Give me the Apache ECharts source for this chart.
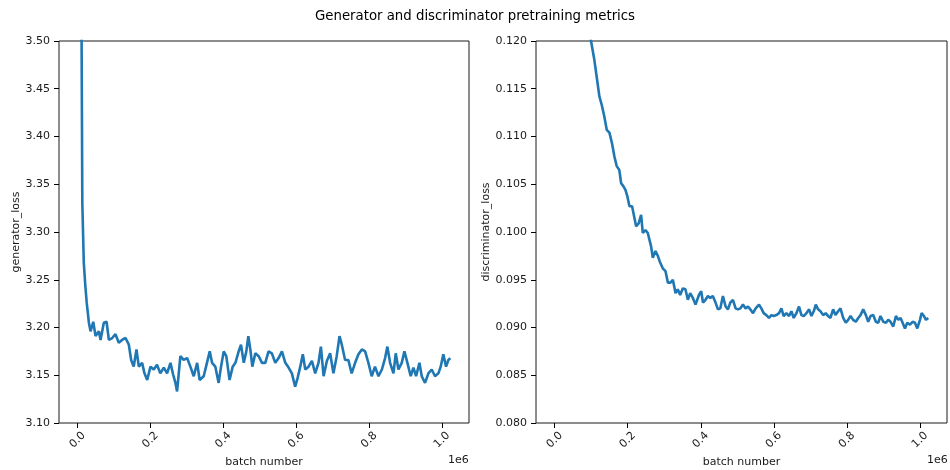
<!DOCTYPE html>
<html>
<head>
<meta charset="utf-8">
<script src="https://cdn.jsdelivr.net/npm/echarts@6/dist/echarts.min.js"></script>
<style>html,body{margin:0;padding:0;background:#fff}#c{width:950px;height:470px}</style>
</head>
<body>
<div id="c"></div>
<script>
// ---- data ----
const genBatch = [0,5000,9000,11000,13000,17000,21000,25000,31000,35600,43000,49300,58400,63000,72000,79500,85800,95000,104000,113000,122000,131500,140600,147000,154000,161600,168000,177000,183600,191000,200000,209000,218000,227000,236500,245600,254800,262000,268500,273000,282000,291000,300500,309500,318700,328000,335000,346000,355000,362600,369000,378000,387000,393600,401000,408000,417000,425600,433000,442000,448400,456000,463000,468500,474000,479500,487700,496800,506000,515000,524000,533000,542500,551600,560700,570000,579000,588000,597000,603600,611000,618000,624700,633800,643000,652000,661000,667600,675000,684000,693000,702000,711000,718700,725000,734000,743000,752000,761500,770700,780000,789000,798000,807000,816000,825600,835000,843800,850000,857500,866700,873000,880400,889500,896800,905000,914000,921500,928800,938000,944300,953400,962600,971700,980800,990000,996300,1003600,1011000,1017400,1022800];
const genLoss  = [5.8,4.4,3.70,3.50,3.33,3.268,3.245,3.226,3.205,3.196,3.206,3.191,3.196,3.187,3.205,3.206,3.187,3.189,3.193,3.184,3.187,3.189,3.182,3.166,3.159,3.177,3.159,3.163,3.152,3.145,3.159,3.156,3.161,3.152,3.158,3.152,3.163,3.151,3.142,3.133,3.170,3.166,3.168,3.159,3.149,3.163,3.145,3.149,3.163,3.175,3.163,3.159,3.142,3.159,3.175,3.170,3.145,3.159,3.163,3.175,3.182,3.163,3.175,3.191,3.177,3.159,3.173,3.170,3.163,3.163,3.175,3.173,3.163,3.168,3.175,3.163,3.158,3.152,3.138,3.147,3.159,3.172,3.156,3.159,3.165,3.152,3.163,3.180,3.149,3.165,3.173,3.152,3.170,3.191,3.182,3.166,3.166,3.152,3.163,3.172,3.177,3.175,3.163,3.149,3.159,3.149,3.156,3.168,3.180,3.163,3.152,3.173,3.156,3.163,3.175,3.163,3.149,3.158,3.149,3.163,3.149,3.142,3.152,3.156,3.149,3.152,3.159,3.172,3.159,3.166,3.168];

const discBatch = [0,20000,40000,60000,80000,99600,108800,116000,122500,129000,136000,142600,150000,157000,163600,170000,177000,182000,188000,193800,199300,204800,212000,215700,223000,230000,236700,241300,248600,255000,264000,268700,276000,282500,288800,296000,303500,310000,317000,323600,331000,337000,343700,351000,358000,364700,371000,378400,385700,395000,401300,406000,413000,419600,426000,433000,440600,447000,453400,460700,468000,474400,480800,488000,495400,501800,508200,515500,522800,529300,535600,543000,550300,559400,565800,572200,579500,586800,593200,599600,607000,614300,620700,627000,634400,641700,648000,654500,661800,669000,675500,682000,689200,696500,703000,709300,714800,721200,727600,735000,742000,748600,755000,762300,768700,776000,782400,789800,797000,803500,810000,817000,824500,831000,837300,844600,852000,858300,864700,872000,879300,885700,892000,899500,906800,913100,919600,926900,934200,940600,947000,952500,958900,965300,972600,979900,986300,992700,1000000,1004600,1011000,1016400,1022800];
const discLoss  = [0.172,0.156,0.145,0.136,0.128,0.1200,0.1180,0.1160,0.1142,0.1133,0.1121,0.1107,0.1104,0.1093,0.1079,0.1069,0.1065,0.1051,0.1048,0.1044,0.1037,0.1027,0.1027,0.1020,0.1006,0.1009,0.1018,0.0999,0.1002,0.0999,0.0985,0.0973,0.0980,0.0975,0.0968,0.0962,0.0959,0.0947,0.0947,0.0950,0.0936,0.0940,0.0934,0.0941,0.0940,0.0929,0.0936,0.0931,0.0924,0.0934,0.0938,0.0926,0.0929,0.0933,0.0931,0.0933,0.0926,0.0919,0.0920,0.0933,0.0922,0.0919,0.0926,0.0929,0.0920,0.0919,0.0920,0.0924,0.0920,0.0922,0.0919,0.0915,0.0920,0.0924,0.0920,0.0915,0.0913,0.0910,0.0913,0.0912,0.0913,0.0915,0.0920,0.0912,0.0915,0.0912,0.0917,0.0910,0.0915,0.0922,0.0913,0.0912,0.0915,0.0919,0.0912,0.0917,0.0924,0.0919,0.0917,0.0913,0.0915,0.0912,0.0910,0.0919,0.0913,0.0917,0.0920,0.0910,0.0905,0.0908,0.0912,0.0908,0.0906,0.0910,0.0913,0.0919,0.0913,0.0906,0.0912,0.0913,0.0906,0.0905,0.0912,0.0906,0.0905,0.0908,0.0906,0.0901,0.0912,0.0908,0.0910,0.0905,0.0899,0.0905,0.0903,0.0906,0.0905,0.0899,0.0908,0.0915,0.0912,0.0908,0.0910];

const xTicks = [0, 200000, 400000, 600000, 800000, 1000000];
const genYRange = [3.10, 3.50];
const discYRange = [0.080, 0.120];
const titleText = 'Generator and discriminator pretraining metrics';
const xLabel = 'batch number';
const genYLabel = 'generator_loss';
const discYLabel = 'discriminator_loss';
const offsetText = '1e6';

// ---- chart ----
const FONT = 'DejaVu Sans';
const LINE = '#1f77b4';
const TXT = '#1a1a1a';
const chart = echarts.init(document.getElementById('c'), null, {renderer: 'canvas'});

function xAxisCfg(gi) {
  return {
    type: 'value', gridIndex: gi, min: -51000, max: 1074000,
    name: xLabel, nameLocation: 'middle', nameGap: 34,
    nameTextStyle: {fontFamily: FONT, fontSize: 11, color: TXT},
    axisLine: {show: false, onZero: false},
    axisTick: {show: true, length: 5, customValues: xTicks, lineStyle: {color: '#000', width: 1}},
    axisLabel: {
      customValues: xTicks, rotate: 45, align: 'center', verticalAlign: 'middle', margin: 17,
      fontFamily: FONT, fontSize: 11, color: TXT,
      formatter: v => (v / 1e6).toFixed(1)
    },
    splitLine: {show: false}
  };
}
function yAxisCfg(gi, range, step, dec, name, gap) {
  return {
    type: 'value', gridIndex: gi, min: range[0], max: range[1], interval: step,
    name: name, nameLocation: 'middle', nameGap: gap,
    nameTextStyle: {fontFamily: FONT, fontSize: 11, color: TXT},
    axisLine: {show: false, onZero: false},
    axisTick: {show: true, length: 5, lineStyle: {color: '#000', width: 1}},
    axisLabel: {margin: 9, fontFamily: FONT, fontSize: 11, color: TXT,
      formatter: v => v.toFixed(dec)},
    splitLine: {show: false}
  };
}

chart.setOption({
  animation: false,
  backgroundColor: '#fff',
  title: {text: titleText, left: 'center', top: 5,
    textStyle: {fontFamily: FONT, fontSize: 13.3, fontWeight: 'normal', color: '#000'}},
  grid: [
    {left: 59, top: 41, width: 410, height: 382, containLabel: false, outerBoundsMode: 'none',
      show: true, borderColor: '#1a1a1a', borderWidth: 1, backgroundColor: 'transparent'},
    {left: 536, top: 41, width: 411, height: 382, containLabel: false, outerBoundsMode: 'none',
      show: true, borderColor: '#1a1a1a', borderWidth: 1, backgroundColor: 'transparent'}
  ],
  xAxis: [xAxisCfg(0), xAxisCfg(1)],
  yAxis: [
    yAxisCfg(0, genYRange, 0.05, 2, genYLabel, 36),
    yAxisCfg(1, discYRange, 0.005, 3, discYLabel, 42)
  ],
  graphic: [
    {type: 'text', left: 448, top: 455, style: {text: offsetText, font: '11px "DejaVu Sans"', fill: TXT}},
    {type: 'text', left: 927, top: 455, style: {text: offsetText, font: '11px "DejaVu Sans"', fill: TXT}}
  ],
  series: [
    {type: 'line', xAxisIndex: 0, yAxisIndex: 0, clip: true, symbol: 'none', smooth: false,
      lineStyle: {color: LINE, width: 2.6}, data: genBatch.map((b, i) => [b, genLoss[i]])},
    {type: 'line', xAxisIndex: 1, yAxisIndex: 1, clip: true, symbol: 'none', smooth: false,
      lineStyle: {color: LINE, width: 2.6}, data: discBatch.map((b, i) => [b, discLoss[i]])}
  ]
});
</script>
</body>
</html>
